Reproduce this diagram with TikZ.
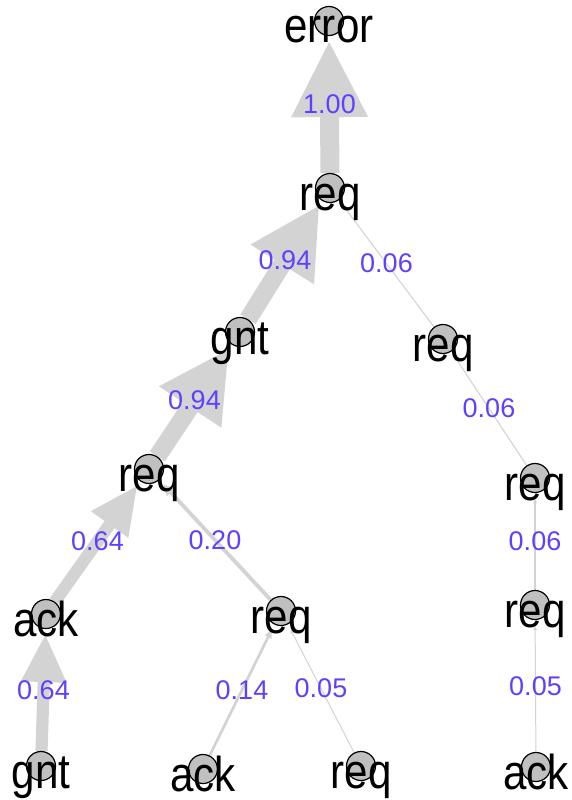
\documentclass[tikz,border=0pt]{standalone}
\usepackage{fontspec}
\setmainfont{Liberation Sans}
\newfontfamily\vlabelfont[FakeStretch=0.86]{Liberation Sans}
\usetikzlibrary{arrows.meta,calc,backgrounds}
\definecolor{edgegray}{HTML}{D3D3D3}
\definecolor{vertexgray}{HTML}{C0C0C0}
\definecolor{weightblue}{RGB}{96,64,255}
\begin{document}
\begin{tikzpicture}[x=1pt,y=-1pt,
  vertex/.style={circle, draw=black, line width=1.2pt, fill=vertexgray,
    minimum size=29pt, inner sep=0pt},
  vname/.style={anchor=base, inner sep=0pt,
    font=\vlabelfont\fontsize{49}{49}\selectfont},
  weight/.style={text=weightblue, inner sep=0pt,
    font=\fontsize{27}{27}\selectfont},
  link/.style n args={3}{draw=edgegray, line width=#1, shorten >=6pt,
    -{Triangle[length=#2, width=#3, line width=0pt]}},
]
\useasboundingbox (0,0) rectangle (571,800);

% vertices
\node[vertex] (error) at (329,21) {};
\node[vertex] (req1)  at (330,188) {};
\node[vertex] (gnt1)  at (240,332) {};
\node[vertex] (req2)  at (443,339) {};
\node[vertex] (req3)  at (149,469) {};
\node[vertex] (req4)  at (535,478) {};
\node[vertex] (ack1)  at (46,614) {};
\node[vertex] (req5)  at (281,611) {};
\node[vertex] (req6)  at (535,605) {};
\node[vertex] (gnt2)  at (41,766) {};
\node[vertex] (ack2)  at (203,769) {};
\node[vertex] (req7)  at (361,766) {};
\node[vertex] (ack3)  at (536,767) {};

% weighted edges, child to parent
\begin{scope}[on background layer]
\draw[link={19pt}{75pt}{77pt}]   (req1) -- (error);
\draw[link={18pt}{69pt}{75pt}]   (gnt1) -- (req1);
\draw[link={18pt}{69pt}{75pt}]   (req3) -- (gnt1);
\draw[link={1.1pt}{4pt}{4pt}]    (req2) -- (req1);
\draw[link={1.1pt}{4pt}{4pt}]    (req4) -- (req2);
\draw[link={1.1pt}{4pt}{4pt}]    (req6) -- (req4);
\draw[link={1pt}{4pt}{4pt}]      (ack3) -- (req6);
\draw[link={12.2pt}{47pt}{46pt}] (ack1) -- (req3);
\draw[link={3.8pt}{11pt}{11pt}]  (req5) -- (req3);
\draw[link={12.2pt}{47pt}{46pt}] (gnt2) -- (ack1);
\draw[link={2.7pt}{8pt}{8pt}]    (ack2) -- (req5);
\draw[link={1pt}{4pt}{4pt}]      (req7) -- (req5);
\end{scope}

% vertex names
\foreach \v/\t in {error/error, req1/req, gnt1/gnt, req2/req, req3/req,
  req4/req, ack1/ack, req5/req, req6/req, gnt2/gnt, ack2/ack, req7/req,
  ack3/ack}
  \node[vname] (\v-name) at ($(\v)+(0,22)$) {\t};

% edge weights
\node[weight] (w1)  at ($(req1)!0.5!(error)$) {1.00};
\node[weight] (w2)  at ($(gnt1)!0.5!(req1)$)  {0.94};
\node[weight] (w3)  at ($(req3)!0.5!(gnt1)$)  {0.94};
\node[weight] (w4)  at ($(req2)!0.5!(req1)$)  {0.06};
\node[weight] (w5)  at ($(req4)!0.5!(req2)$)  {0.06};
\node[weight] (w6)  at ($(req6)!0.5!(req4)$)  {0.06};
\node[weight] (w7)  at ($(ack3)!0.5!(req6)$)  {0.05};
\node[weight] (w8)  at ($(ack1)!0.5!(req3)$)  {0.64};
\node[weight] (w9)  at ($(req5)!0.5!(req3)$)  {0.20};
\node[weight] (w10) at ($(gnt2)!0.5!(ack1)$)  {0.64};
\node[weight] (w11) at ($(ack2)!0.5!(req5)$)  {0.14};
\node[weight] (w12) at ($(req7)!0.5!(req5)$)  {0.05};
\end{tikzpicture}
\end{document}
